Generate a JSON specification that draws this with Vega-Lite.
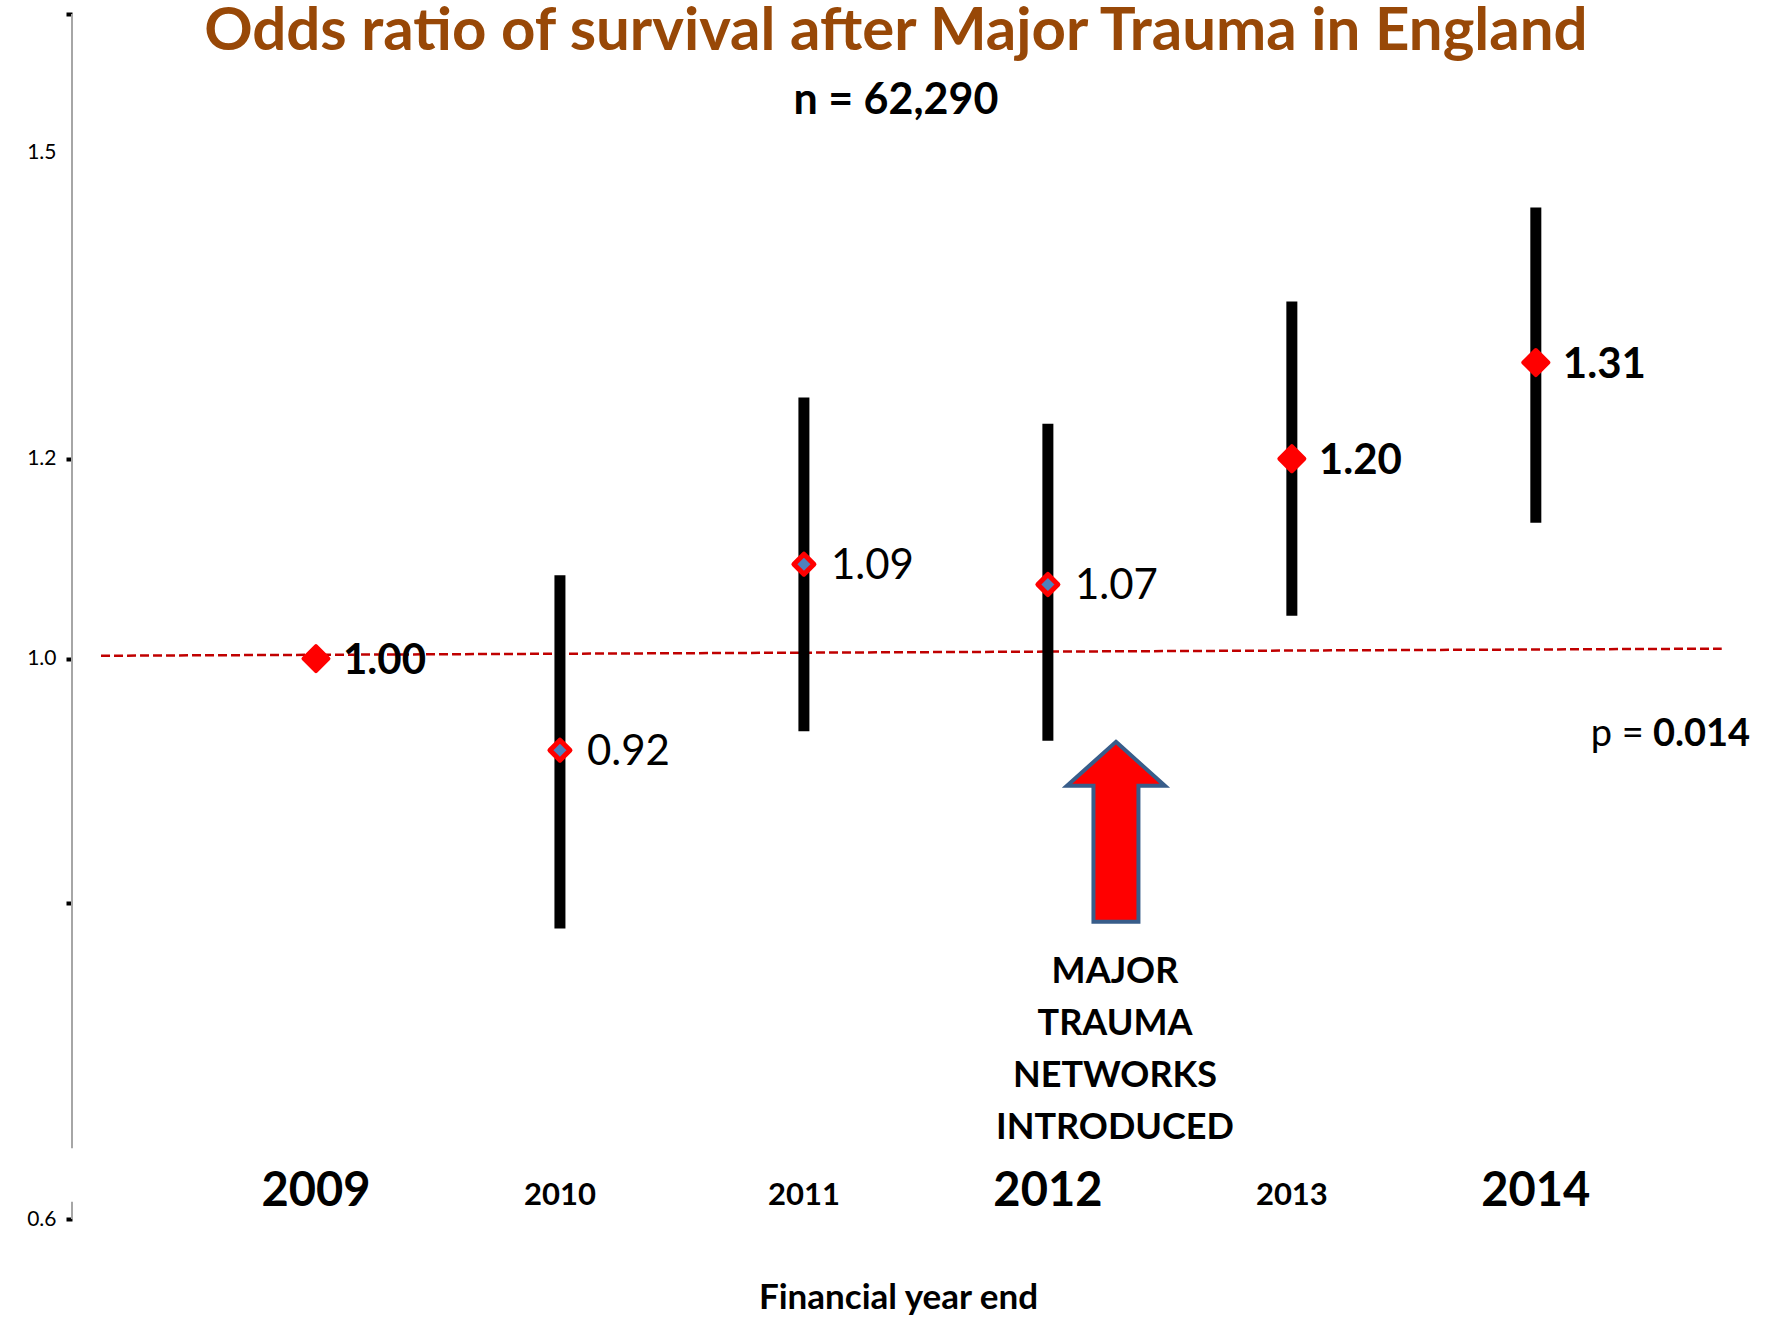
{
  "$schema": "https://vega.github.io/schema/vega-lite/v6.json",
  "autosize": {"type": "none"},
  "padding": {"left": 72, "top": 14, "right": 37, "bottom": 100},
  "width": 1659,
  "height": 1205,
  "background": "white",
  "config": {"view": {"stroke": null}, "font": "Lato", "axis": {"grid": false}},
  "datasets": {
    "or": [
      {"year": 2009, "or": 1.00, "lo": null, "hi": null},
      {"year": 2010, "or": 0.92, "lo": 0.782, "hi": 1.079},
      {"year": 2011, "or": 1.09, "lo": 0.936, "hi": 1.269},
      {"year": 2012, "or": 1.07, "lo": 0.928, "hi": 1.239},
      {"year": 2013, "or": 1.20, "lo": 1.040, "hi": 1.385},
      {"year": 2014, "or": 1.31, "lo": 1.132, "hi": 1.509}
    ],
    "ref": [
      {"x": 2008.119, "y": 1.0027},
      {"x": 2014.762, "y": 1.0092}
    ],
    "yline": [
      {"y": 0.640, "y2": 1.8},
      {"y": 0.6, "y2": 0.6095}
    ]
  },
  "layer": [
    {
      "data": {"name": "yline"},
      "mark": {"type": "rule", "color": "#a6a6a6", "strokeWidth": 2},
      "encoding": {
        "x": {
          "datum": 2008, "type": "quantitative",
          "scale": {"domain": [2008, 2014.8], "nice": false, "zero": false},
          "axis": {
            "title": "Financial year end", "labels": false, "ticks": false, "domain": false, "grid": false,
            "titleFont": "Lato", "titleFontSize": 35, "titleFontWeight": "bold", "titleColor": "black",
            "titleY": 78, "titleX": 826, "titleBaseline": "middle"
          }
        },
        "y": {
          "field": "y", "type": "quantitative",
          "scale": {"type": "log", "domain": [0.6, 1.8], "nice": false},
          "axis": {
            "title": null, "grid": false, "domain": false,
            "values": [0.6, 0.8, 1.0, 1.2, 1.586, 1.8],
            "labelExpr": "datum.value > 1.5 && datum.value < 1.7 ? '1.5' : ((datum.value > 0.7 && datum.value < 0.9) || datum.value > 1.7) ? '' : format(datum.value, '.1f')",
            "tickColor": {"condition": {"test": "datum.value > 1.5 && datum.value < 1.7", "value": "transparent"}, "value": "black"},
            "tickWidth": 4, "tickSize": 6,
            "labelFont": "Lato", "labelFontSize": 21, "labelColor": "black", "labelPadding": 10,
            "labelOverlap": false, "labelFlush": false
          }
        },
        "y2": {"field": "y2"}
      }
    },
    {
      "data": {"name": "ref"},
      "mark": {"type": "line", "color": "#c00000", "strokeWidth": 2.5, "strokeDash": [9, 4]},
      "encoding": {
        "x": {"field": "x", "type": "quantitative"},
        "y": {"field": "y", "type": "quantitative"}
      }
    },
    {
      "data": {"name": "or"},
      "transform": [{"filter": "isValid(datum.lo)"}],
      "mark": {"type": "rule", "color": "black", "strokeWidth": 11, "strokeCap": "butt"},
      "encoding": {
        "x": {"field": "year", "type": "quantitative"},
        "y": {"field": "lo", "type": "quantitative"},
        "y2": {"field": "hi"}
      }
    },
    {
      "data": {"name": "or"},
      "mark": {"type": "point", "shape": "diamond", "filled": true, "stroke": "red", "strokeJoin": "round", "opacity": 1},
      "encoding": {
        "x": {"field": "year", "type": "quantitative"},
        "y": {"field": "or", "type": "quantitative"},
        "size": {"condition": {"test": "indexof([2009,2013,2014], datum.year) >= 0", "value": 625}, "value": 400},
        "fill": {"condition": {"test": "indexof([2009,2013,2014], datum.year) >= 0", "value": "red"}, "value": "#4f81bd"},
        "strokeWidth": {"condition": {"test": "indexof([2009,2013,2014], datum.year) >= 0", "value": 4}, "value": 5}
      }
    },
    {
      "data": {"name": "or"},
      "transform": [{"filter": "indexof([2009,2013,2014], datum.year) >= 0"}],
      "mark": {"type": "text", "align": "left", "baseline": "middle", "dx": 27, "dy": 2, "fontSize": 42, "fontWeight": "bold", "color": "black", "font": "Lato"},
      "encoding": {
        "x": {"field": "year", "type": "quantitative"},
        "y": {"field": "or", "type": "quantitative"},
        "text": {"field": "or", "type": "quantitative", "format": ".2f"}
      }
    },
    {
      "data": {"name": "or"},
      "transform": [{"filter": "indexof([2009,2013,2014], datum.year) < 0"}],
      "mark": {"type": "text", "align": "left", "baseline": "middle", "dx": 27, "dy": 2, "fontSize": 42, "fontWeight": "normal", "color": "black", "font": "Lato"},
      "encoding": {
        "x": {"field": "year", "type": "quantitative"},
        "y": {"field": "or", "type": "quantitative"},
        "text": {"field": "or", "type": "quantitative", "format": ".2f"}
      }
    },
    {
      "data": {"name": "or"},
      "transform": [{"filter": "indexof([2009,2012,2014], datum.year) >= 0"}],
      "mark": {"type": "text", "align": "center", "baseline": "middle", "fontSize": 47, "fontWeight": "bold", "color": "black", "font": "Lato"},
      "encoding": {
        "x": {"field": "year", "type": "quantitative"},
        "y": {"datum": 0.6152, "type": "quantitative"},
        "text": {"field": "year", "type": "quantitative", "format": "d"}
      }
    },
    {
      "data": {"name": "or"},
      "transform": [{"filter": "indexof([2009,2012,2014], datum.year) < 0"}],
      "mark": {"type": "text", "align": "center", "baseline": "middle", "fontSize": 31, "fontWeight": "bold", "color": "black", "font": "Lato"},
      "encoding": {
        "x": {"field": "year", "type": "quantitative"},
        "y": {"datum": 0.6129, "type": "quantitative"},
        "text": {"field": "year", "type": "quantitative", "format": "d"}
      }
    },
    {
      "data": {"values": [{}]},
      "mark": {"type": "point", "shape": "M0,-1 L0.544,-0.511 L0.25,-0.511 L0.25,1 L-0.25,1 L-0.25,-0.511 L-0.544,-0.511 Z", "filled": true, "fill": "#ff0000", "stroke": "#385d8a", "strokeWidth": 4, "strokeJoin": "miter", "size": 32400, "opacity": 1, "fillOpacity": 1},
      "encoding": {
        "x": {"datum": 2012.279, "type": "quantitative"},
        "y": {"datum": 0.854, "type": "quantitative"}
      }
    },
    {
      "data": {"values": [{}]},
      "mark": {"type": "text", "text": ["MAJOR", "TRAUMA", "NETWORKS", "INTRODUCED"], "align": "center", "baseline": "middle", "lineHeight": 52, "fontSize": 36, "fontWeight": "bold", "color": "black", "font": "Lato"},
      "encoding": {
        "x": {"datum": 2012.275, "type": "quantitative"},
        "y": {"datum": 0.7516, "type": "quantitative"}
      }
    },
    {
      "data": {"values": [{}]},
      "mark": {"type": "text", "text": "Odds ratio of survival after Major Trauma in England", "align": "center", "baseline": "middle", "fontSize": 60, "fontWeight": "bold", "color": "#984807", "font": "Lato"},
      "encoding": {
        "x": {"datum": 2011.377, "type": "quantitative"},
        "y": {"datum": 1.77, "type": "quantitative"}
      }
    },
    {
      "data": {"values": [{}]},
      "mark": {"type": "text", "text": "n = 62,290", "align": "center", "baseline": "middle", "fontSize": 43, "fontWeight": "bold", "color": "black", "font": "Lato"},
      "encoding": {
        "x": {"datum": 2011.377, "type": "quantitative"},
        "y": {"datum": 1.663, "type": "quantitative"}
      }
    },
    {
      "data": {"values": [{}]},
      "mark": {"type": "text", "text": "p =", "align": "left", "baseline": "middle", "fontSize": 38, "fontWeight": "normal", "color": "black", "font": "Lato"},
      "encoding": {
        "x": {"datum": 2014.225, "type": "quantitative"},
        "y": {"datum": 0.9327, "type": "quantitative"}
      }
    },
    {
      "data": {"values": [{}]},
      "mark": {"type": "text", "text": "0.014", "align": "left", "baseline": "middle", "fontSize": 38, "fontWeight": "bold", "color": "black", "font": "Lato"},
      "encoding": {
        "x": {"datum": 2014.48, "type": "quantitative"},
        "y": {"datum": 0.9327, "type": "quantitative"}
      }
    }
  ]
}
